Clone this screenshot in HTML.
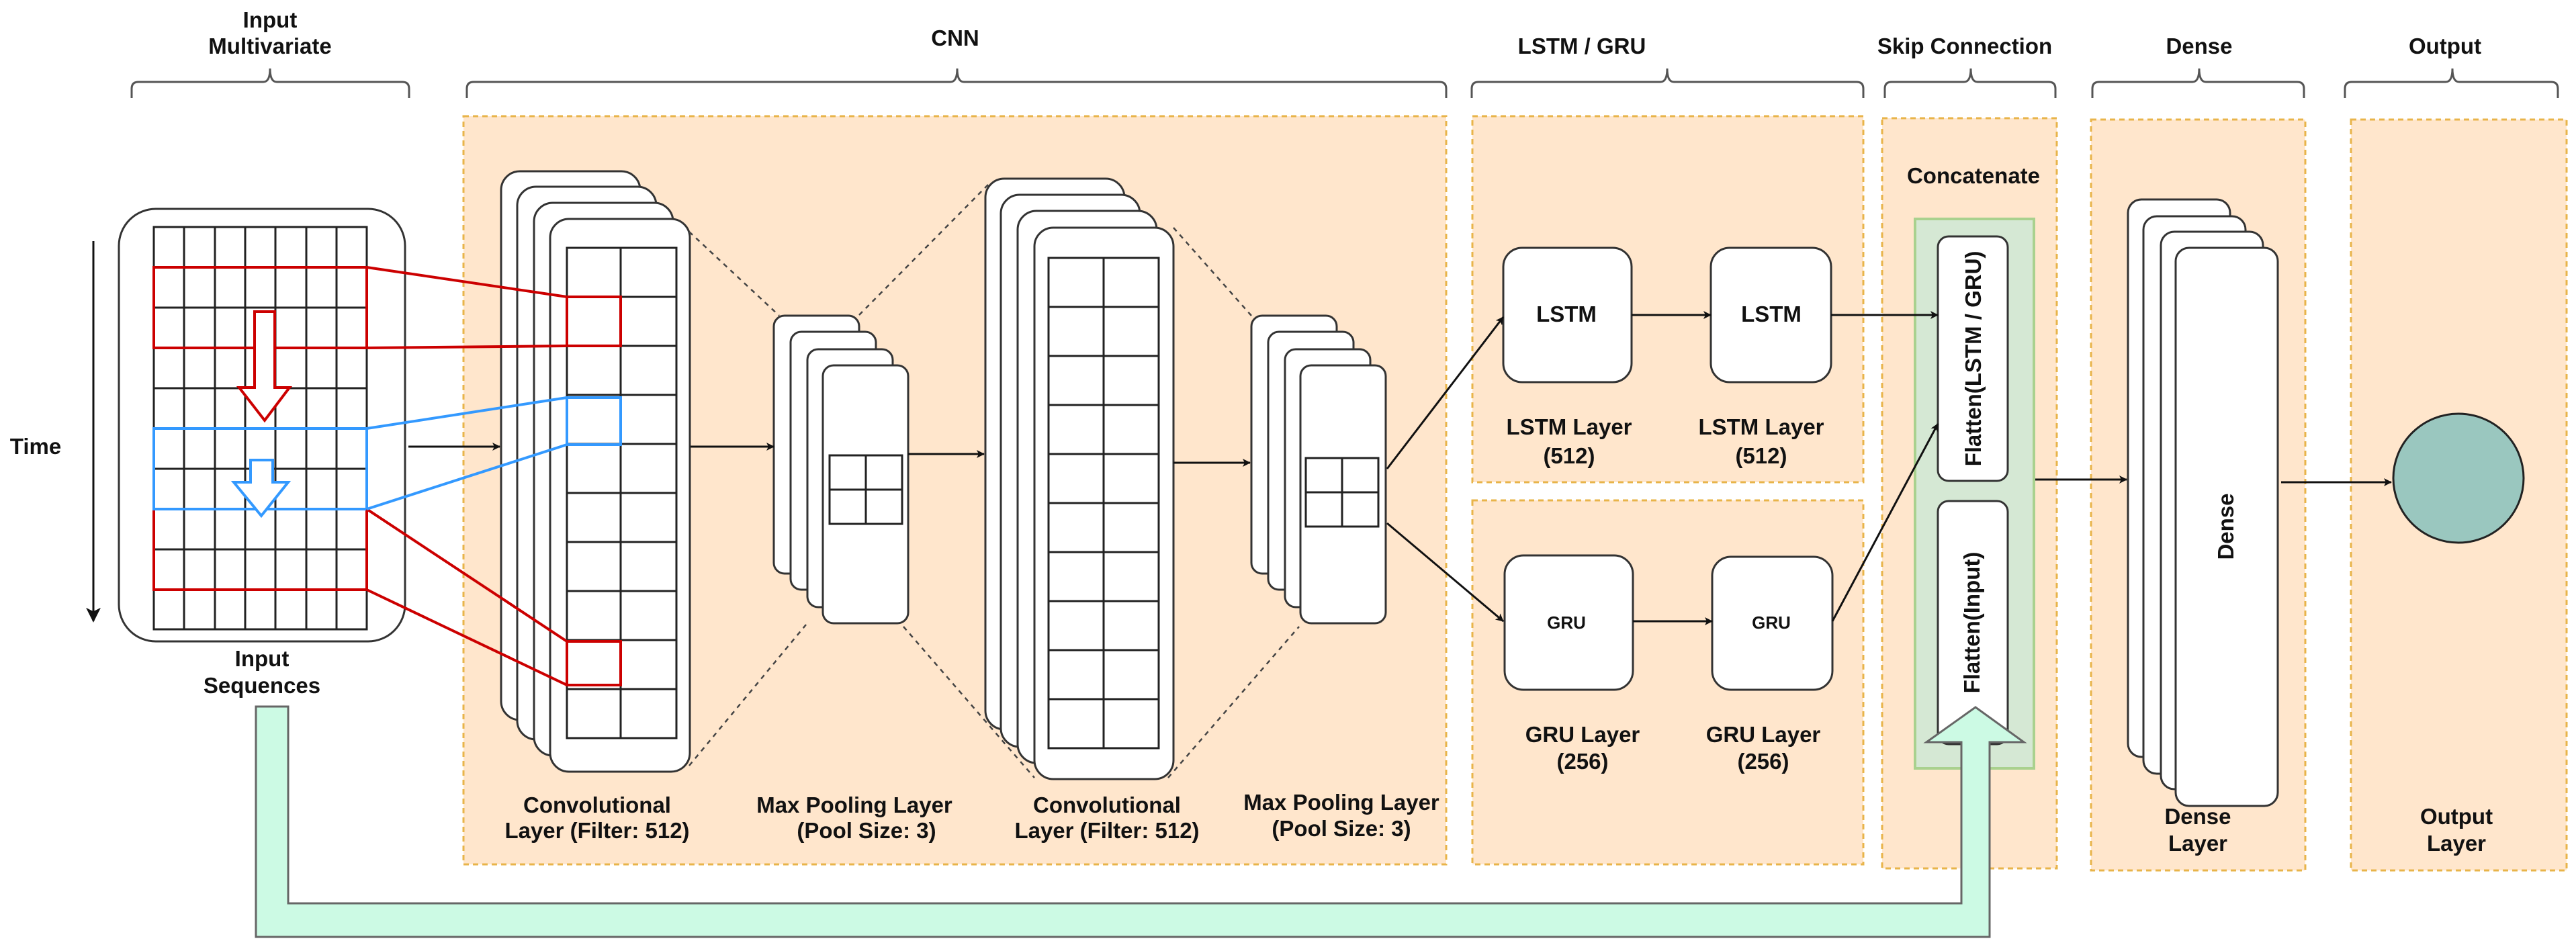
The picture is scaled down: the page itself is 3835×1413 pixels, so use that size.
<!DOCTYPE html>
<html><head><meta charset="utf-8"><style>
html,body{margin:0;padding:0;background:#fff}
svg{display:block}
text{font-family:"Liberation Sans",Arial,sans-serif;font-weight:bold;fill:#111;font-size:33px;text-anchor:middle}
</style></head><body>
<svg width="3835" height="1413" viewBox="0 0 3835 1413" xmlns="http://www.w3.org/2000/svg">
<defs>
<marker id="ar" viewBox="0 0 12 12" refX="11" refY="6" markerWidth="12" markerHeight="12" markerUnits="userSpaceOnUse" orient="auto">
<path d="M0,0 L12,6 L0,12 L3,6 Z" fill="#111"/>
</marker>
<marker id="ar2" viewBox="0 0 12 12" refX="11" refY="6" markerWidth="22" markerHeight="22" markerUnits="userSpaceOnUse" orient="auto">
<path d="M0,0 L12,6 L0,12 L3,6 Z" fill="#111"/>
</marker>
</defs>

<text x="402" y="41">Input</text>
<text x="402" y="80">Multivariate</text>
<text x="1422" y="68">CNN</text>
<text x="2355" y="80">LSTM / GRU</text>
<text x="2925" y="80">Skip Connection</text>
<text x="3274" y="80">Dense</text>
<text x="3640" y="80">Output</text>

<g fill="none" stroke="#555" stroke-width="3">
<path d="M196,146 V132 Q196,122 206,122 H392 Q402,122 402,102 Q402,122 412,122 H599 Q609,122 609,132 V146"/>
<path d="M695,146 V132 Q695,122 705,122 H1415 Q1425,122 1425,102 Q1425,122 1435,122 H2143 Q2153,122 2153,132 V146"/>
<path d="M2191,146 V132 Q2191,122 2201,122 H2472 Q2482,122 2482,102 Q2482,122 2492,122 H2764 Q2774,122 2774,132 V146"/>
<path d="M2806,146 V132 Q2806,122 2816,122 H2924 Q2934,122 2934,102 Q2934,122 2944,122 H3050 Q3060,122 3060,132 V146"/>
<path d="M3115,146 V132 Q3115,122 3125,122 H3264 Q3274,122 3274,102 Q3274,122 3284,122 H3420 Q3430,122 3430,132 V146"/>
<path d="M3491,146 V132 Q3491,122 3501,122 H3641 Q3651,122 3651,102 Q3651,122 3661,122 H3798 Q3808,122 3808,132 V146"/>
</g>

<g fill="#ffe6cc" stroke="#e8b44a" stroke-width="3" stroke-dasharray="8,6">
<rect x="690" y="173" width="1463" height="1114"/>
<rect x="2192" y="173" width="582" height="545"/>
<rect x="2192" y="745" width="582" height="542"/>
<rect x="2802" y="176" width="260" height="1117"/>
<rect x="3113" y="178" width="319" height="1118"/>
<rect x="3500" y="178" width="321" height="1118"/>
</g>

<text x="53" y="676">Time</text>
<line x1="139" y1="359" x2="139" y2="925" stroke="#111" stroke-width="3" marker-end="url(#ar2)"/>

<rect x="177" y="311" width="426" height="644" rx="55" fill="#fff" stroke="#333" stroke-width="3"/>
<g stroke="#222" stroke-width="3" fill="none">
<rect x="229" y="338" width="317" height="599"/>
<path d="M274,338V937M320,338V937M365,338V937M410,338V937M456,338V937M501,338V937"/>
<path d="M229,398H546M229,458H546M229,518H546M229,578H546M229,638H546M229,698H546M229,758H546M229,818H546M229,878H546"/>
</g>
<text x="390" y="992">Input</text>
<text x="390" y="1032">Sequences</text>

<g fill="#fff" stroke="#333" stroke-width="3">
<rect x="746" y="255" width="207" height="817" rx="28"/>
<rect x="770" y="278" width="207" height="823" rx="28"/>
<rect x="795" y="302" width="207" height="823" rx="28"/>
<rect x="819" y="326" width="208" height="823" rx="28"/>
</g>
<g stroke="#222" stroke-width="3" fill="none">
<rect x="844" y="369" width="163" height="730"/>
<path d="M924,369V1099"/>
<path d="M844,442H1007M844,515H1007M844,588H1007M844,661H1007M844,734H1007M844,807H1007M844,880H1007M844,953H1007M844,1026H1007"/>
</g>

<g fill="none" stroke-width="4">
<rect x="229" y="398" width="317" height="120" stroke="#cc0000"/>
<rect x="229" y="758" width="317" height="120" stroke="#cc0000"/>
<rect x="229" y="638" width="317" height="120" stroke="#3399ff"/>
<rect x="844" y="442" width="80" height="73" stroke="#cc0000"/>
<rect x="844" y="955" width="80" height="65" stroke="#cc0000"/>
<rect x="844" y="592" width="80" height="70" stroke="#3399ff"/>
<path d="M546,398L844,442M546,518L844,515M546,758L844,955M546,878L844,1020" stroke="#cc0000"/>
<path d="M546,638L844,592M546,758L844,662" stroke="#3399ff"/>
</g>
<path d="M379,464H409V577H431L394,626L356,577H379Z" fill="#fff" stroke="#cc0000" stroke-width="4"/>
<path d="M373,685H406V718H429L389,768L348,718H373Z" fill="#fff" stroke="#3399ff" stroke-width="4"/>

<g stroke="#444" stroke-width="2.5" stroke-dasharray="7,7" fill="none">
<path d="M1026,345L1160,470M1026,1140L1200,930"/>
<path d="M1279,469L1474,272M1345,933L1540,1158"/>
<path d="M1747,339L1863,470M1739,1158L1934,933"/>
</g>

<g fill="#fff" stroke="#333" stroke-width="3">
<rect x="1152" y="470" width="127" height="384" rx="16"/>
<rect x="1177" y="494" width="127" height="384" rx="16"/>
<rect x="1202" y="520" width="127" height="384" rx="16"/>
<rect x="1225" y="544" width="127" height="384" rx="16"/>
</g>
<g stroke="#222" stroke-width="3" fill="none">
<rect x="1235" y="678" width="108" height="102"/>
<path d="M1289,678V780M1235,729H1343"/>
</g>

<g fill="#fff" stroke="#333" stroke-width="3">
<rect x="1467" y="266" width="207" height="820" rx="28"/>
<rect x="1490" y="290" width="207" height="822" rx="28"/>
<rect x="1515" y="314" width="207" height="822" rx="28"/>
<rect x="1540" y="339" width="207" height="821" rx="28"/>
</g>
<g stroke="#222" stroke-width="3" fill="none">
<rect x="1561" y="384" width="164" height="730"/>
<path d="M1643,384V1114"/>
<path d="M1561,457H1725M1561,530H1725M1561,603H1725M1561,676H1725M1561,749H1725M1561,822H1725M1561,895H1725M1561,968H1725M1561,1041H1725"/>
</g>

<g fill="#fff" stroke="#333" stroke-width="3">
<rect x="1863" y="470" width="127" height="384" rx="16"/>
<rect x="1888" y="494" width="127" height="384" rx="16"/>
<rect x="1913" y="520" width="127" height="384" rx="16"/>
<rect x="1936" y="544" width="127" height="384" rx="16"/>
</g>
<g stroke="#222" stroke-width="3" fill="none">
<rect x="1944" y="682" width="108" height="102"/>
<path d="M1998,682V784M1944,733H2052"/>
</g>

<text x="889" y="1210">Convolutional</text>
<text x="889" y="1248">Layer (Filter: 512)</text>
<text x="1272" y="1210">Max Pooling Layer</text>
<text x="1290" y="1248">(Pool Size: 3)</text>
<text x="1648" y="1210">Convolutional</text>
<text x="1648" y="1248">Layer (Filter: 512)</text>
<text x="1997" y="1206">Max Pooling Layer</text>
<text x="1997" y="1245">(Pool Size: 3)</text>

<g fill="#fff" stroke="#333" stroke-width="3">
<rect x="2238" y="369" width="191" height="200" rx="28"/>
<rect x="2547" y="369" width="179" height="200" rx="28"/>
<rect x="2240" y="827" width="191" height="200" rx="28"/>
<rect x="2549" y="829" width="179" height="198" rx="28"/>
</g>
<text x="2332" y="479">LSTM</text>
<text x="2637" y="479">LSTM</text>
<text x="2332" y="936" style="font-size:26px">GRU</text>
<text x="2637" y="936" style="font-size:26px">GRU</text>
<text x="2336" y="647">LSTM Layer</text>
<text x="2336" y="690">(512)</text>
<text x="2622" y="647">LSTM Layer</text>
<text x="2622" y="690">(512)</text>
<text x="2356" y="1105">GRU Layer</text>
<text x="2356" y="1145">(256)</text>
<text x="2625" y="1105">GRU Layer</text>
<text x="2625" y="1145">(256)</text>

<text x="2938" y="273">Concatenate</text>
<rect x="2851" y="326" width="177" height="818" fill="#d5e8d4" stroke="#a9d18e" stroke-width="4"/>
<rect x="2885" y="352" width="104" height="364" rx="16" fill="#fff" stroke="#333" stroke-width="3"/>
<rect x="2885" y="746" width="104" height="362" rx="16" fill="#fff" stroke="#333" stroke-width="3"/>
<text transform="translate(2949,534) rotate(-90)">Flatten(LSTM / GRU)</text>
<text transform="translate(2947,927) rotate(-90)">Flatten(Input)</text>

<g fill="#fff" stroke="#333" stroke-width="3">
<rect x="3168" y="297" width="152" height="830" rx="20"/>
<rect x="3191" y="322" width="152" height="830" rx="20"/>
<rect x="3217" y="345" width="152" height="830" rx="20"/>
<rect x="3239" y="369" width="152" height="831" rx="20"/>
</g>
<text transform="translate(3325,784) rotate(-90)">Dense</text>
<text x="3272" y="1227">Dense</text>
<text x="3272" y="1267">Layer</text>

<ellipse cx="3660" cy="712" rx="97" ry="96" fill="#9ac7bf" stroke="#222" stroke-width="3"/>
<text x="3657" y="1227">Output</text>
<text x="3657" y="1267">Layer</text>

<!-- arrows (on top) -->
<g stroke="#111" stroke-width="3" fill="none" marker-end="url(#ar)">
<line x1="608" y1="665" x2="744" y2="665"/>
<line x1="1028" y1="665" x2="1152" y2="665"/>
<line x1="1352" y1="676" x2="1465" y2="676"/>
<line x1="1747" y1="689" x2="1861" y2="689"/>
<line x1="2065" y1="698" x2="2238" y2="472"/>
<line x1="2065" y1="779" x2="2238" y2="925"/>
<line x1="2429" y1="469" x2="2547" y2="469"/>
<line x1="2431" y1="925" x2="2549" y2="925"/>
<line x1="2726" y1="469" x2="2885" y2="469"/>
<line x1="2728" y1="925" x2="2885" y2="631"/>
<line x1="3030" y1="714" x2="3166" y2="714"/>
<line x1="3396" y1="718" x2="3560" y2="718"/>
</g>

<!-- skip connection green arrow (on top) -->
<path d="M381,1052 H429 V1345 H2920 V1105 H2868 L2941,1053 L3013,1105 H2962 V1395 H381 Z" fill="#ccfae4" stroke="#666" stroke-width="3"/>
</svg>
</body></html>
